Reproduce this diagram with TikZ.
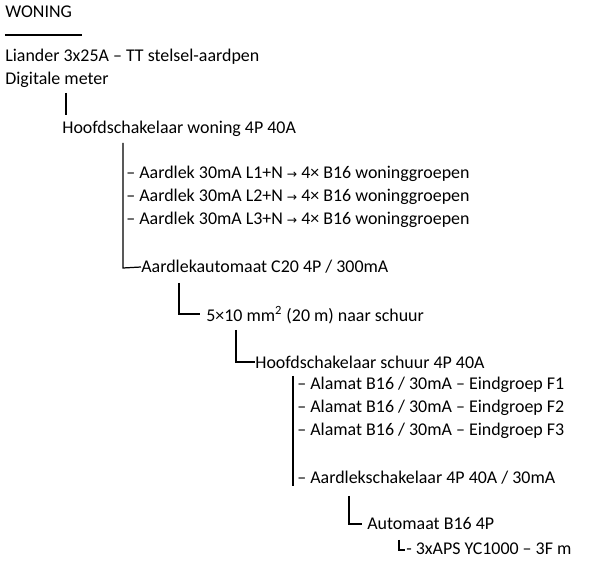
\documentclass[tikz,border=0pt]{standalone}
\usepackage{fontspec}
\setmainfont{Carlito}
\newfontfamily\symfont{DejaVu Sans}
\usetikzlibrary{positioning}
\newcommand{\toarrow}{{\symfont\fontsize{7}{8}\selectfont →}}

\begin{document}
\begin{tikzpicture}[x=0.02cm, y=-0.02cm,
    item/.style={anchor=west, inner sep=0pt, font=\fontsize{10.2}{12}\selectfont},
    wire/.style={line width=0.7pt}
]
\clip (0,0) rectangle (600,561);
\useasboundingbox (0,0) rectangle (600,561);

% Title
\node[item] (title) at (5,12) {WONING};
\draw[wire] (5,35) -- (82,35);

% Aansluiting
\node[item] (liander) at (5,57) {Liander 3x25A -- TT stelsel-aardpen};
\node[item] (meter) at (5,80) {Digitale meter};
\draw[wire] (66,93) -- (66,115);

% Woning
\node[item] (hsw) at (62,129) {Hoofdschakelaar woning 4P 40A};
\node[item] (al1) at (126,174) {-- Aardlek 30mA L1+N \toarrow{} 4× B16 woninggroepen};
\node[item] (al2) at (126,197) {-- Aardlek 30mA L2+N \toarrow{} 4× B16 woninggroepen};
\node[item] (al3) at (126,220) {-- Aardlek 30mA L3+N \toarrow{} 4× B16 woninggroepen};
\node[item] (aa) at (141,267) {Aardlekautomaat C20 4P / 300mA};
\draw[wire] (123,143) -- (123,268) -- (aa.west);

% Kabel
\node[item] (kabel) at (206,315) {5×10 mm\textsuperscript{2} (20 m) naar schuur};
\draw[wire] (179,283) -- (179,314) -- (200,314);

% Schuur
\node[item] (hss) at (255,362) {Hoofdschakelaar schuur 4P 40A};
\draw[wire] (236,330) -- (236,362) -- (hss.west);
\node[item] (f1) at (297,385) {-- Alamat B16 / 30mA -- Eindgroep F1};
\node[item] (f2) at (297,408) {-- Alamat B16 / 30mA -- Eindgroep F2};
\node[item] (f3) at (297,431) {-- Alamat B16 / 30mA -- Eindgroep F3};
\node[item] (als) at (297,478) {-- Aardlekschakelaar 4P 40A / 30mA};
\draw[wire] (293,376) -- (293,486);

% Automaat
\node[item] (aut) at (367,524) {Automaat B16 4P};
\draw[wire] (349,496) -- (349,524) -- (362,524);
\node[item] (aps) at (406,549) {- 3xAPS YC1000 -- 3F m};
\draw[wire] (399,540) -- (399,550) -- (405,550);
\end{tikzpicture}
\end{document}
